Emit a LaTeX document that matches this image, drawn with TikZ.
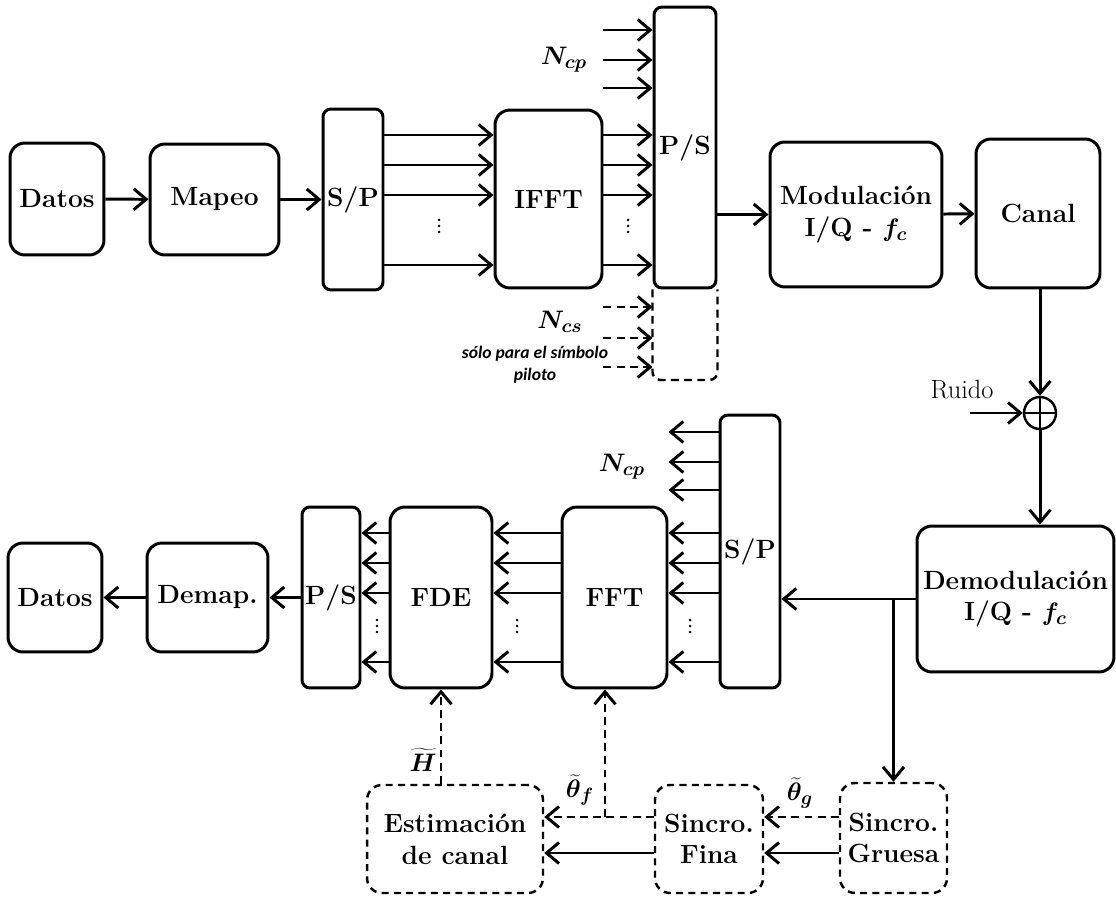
\documentclass[tikz,border=0pt]{standalone}
\usepackage{fontspec}
\usepackage{bm}
\newfontfamily\notafont{Carlito}
\usetikzlibrary{arrows.meta}

\tikzset{
  blk/.style={draw, line width=1.7pt, rounded corners=0.3cm, align=center,
    inner sep=0pt, font=\bfseries\fontsize{15}{18}\selectfont},
  thinblk/.style={blk, rounded corners=0.16cm},
  sincro/.style={blk, line width=1.4pt, dash pattern=on 4pt off 3pt},
  arr/.style={line width=1.7pt, -{Straight Barb[length=2.5mm,width=4.2mm]}},
  darr/.style={arr, dash pattern=on 4.5pt off 3pt},
  lbl/.style={inner sep=1pt}
}

\begin{document}
\begin{tikzpicture}[
  x=0.02cm, y=-0.02cm,
  line cap=butt,
  font=\fontsize{15}{18}\selectfont
]
  \useasboundingbox (0,0) rectangle (1116,898);

  % Transmisor
  \node[blk, minimum width=1.88cm, minimum height=2.24cm] (datosT) at (57,199) {Datos};
  \node[blk, minimum width=2.58cm, minimum height=2.22cm] (mapeo) at (214.5,199.5) {Mapeo};
  \node[thinblk, minimum width=1.2cm, minimum height=3.62cm] (spT) at (353,199.5) {S/P};
  \node[blk, minimum width=2.14cm, minimum height=3.56cm] (ifft) at (548.5,199) {IFFT};
  \node[thinblk, minimum width=1.24cm, minimum height=5.62cm] (psT) at (685,147.5) {P/S};
  \node[blk, minimum width=3.44cm, minimum height=2.9cm] (mod) at (856,214.5)
    {Modulación\\I/Q - $\bm{f_c}$};
  \node[blk, minimum width=2.48cm, minimum height=2.98cm] (canal) at (1038,213.5) {Canal};

  \draw[arr] (datosT) -- (mapeo);
  \draw[arr] (mapeo) -- (spT);
  \foreach \y in {135,165,195,265} {
    \draw[arr] (spT.east |- 0,\y) -- (ifft.west |- 0,\y);
    \draw[arr] (ifft.east |- 0,\y) -- (psT.west |- 0,\y);
  }

  % Prefijo y sufijo cíclico
  \foreach \y in {30,60,88}
    \draw[arr] (ifft.east |- 0,\y) -- (psT.west |- 0,\y);
  \node[lbl] (ncpT) at (564,60) {$\bm{N_{cp}}$};
  \draw[line width=1.4pt, dash pattern=on 4.5pt off 3pt, rounded corners=0.16cm]
    (psT.south west) -- (psT.west |- 0,380) -- (psT.east |- 0,380) -- (psT.south east);
  \foreach \y in {307,338,367}
    \draw[darr] (ifft.east |- 0,\y) -- (psT.west |- 0,\y);
  \node[lbl] (ncs) at (560,322) {$\bm{N_{cs}}$};
  \node[lbl, align=center, font=\notafont\bfseries\itshape\fontsize{10}{12.5}\selectfont]
    (piloto) at (535,365) {sólo para el símbolo\\piloto};

  \draw[arr] (psT.east |- mod.west) -- (mod.west);
  \draw[arr] (mod) -- (canal);

  % Canal con ruido
  \node[draw, circle, line width=1.4pt, minimum size=0.64cm, inner sep=0pt] (sum) at (1040,413) {};
  \draw[line width=1.4pt] (sum.north) -- (sum.south) (sum.west) -- (sum.east);
  \draw[arr] (sum.north |- canal.south) -- (sum.north);
  \node[lbl] (ruido) at (962,390) {Ruido};
  \coordinate (ruidoIn) at (970,413);
  \draw[arr] (ruidoIn) -- (sum.west);

  % Receptor
  \node[blk, minimum width=3.94cm, minimum height=2.92cm] (demod) at (1015.5,599)
    {Demodulación\\I/Q - $\bm{f_c}$};
  \node[thinblk, minimum width=1.2cm, minimum height=5.46cm] (spB) at (750,551.5) {S/P};
  \node[blk, minimum width=2.1cm, minimum height=3.62cm] (fft) at (614.5,597.5) {FFT};
  \node[blk, minimum width=2.04cm, minimum height=3.62cm] (fde) at (441,597.5) {FDE};
  \node[thinblk, minimum width=1.16cm, minimum height=3.62cm] (psB) at (331,597.5) {P/S};
  \node[blk, minimum width=2.42cm, minimum height=2.18cm] (demap) at (207.5,597.5) {Demap.};
  \node[blk, minimum width=1.88cm, minimum height=2.18cm] (datosB) at (55,597.5) {Datos};

  \draw[arr] (sum.south) -- (sum.south |- demod.north);
  \draw[arr] (demod.west) -- (demod.west -| spB.east);
  \foreach \y in {533,563,593,662} {
    \draw[arr] (spB.west |- 0,\y) -- (fft.east |- 0,\y);
    \draw[arr] (fft.west |- 0,\y) -- (fde.east |- 0,\y);
    \draw[arr] (fde.west |- 0,\y) -- (psB.east |- 0,\y);
  }
  \foreach \y in {432,462,490}
    \draw[arr] (spB.west |- 0,\y) -- (fft.east |- 0,\y);
  \node[lbl] (ncpB) at (622,467) {$\bm{N_{cp}}$};
  \draw[arr] (psB) -- (demap);
  \draw[arr] (demap) -- (datosB);

  % Puntos verticales entre las líneas
  \foreach \px/\py in {439/226, 628/226, 690/626, 517/626, 377/626}
    \foreach \k in {-1,0,1}
      \fill (\px,\py+6*\k) circle (0.85pt);

  % Sincronización y estimación
  \node[sincro, minimum width=2.14cm, minimum height=2.2cm] (gruesa) at (893.5,838) {Sincro.\\Gruesa};
  \node[sincro, minimum width=2.16cm, minimum height=2.16cm] (fina) at (709,839) {Sincro.\\Fina};
  \node[sincro, minimum width=3.52cm, minimum height=2.16cm] (estim) at (455,839) {Estimación\\de canal};

  \draw[arr] (gruesa.north |- demod.west) -- (gruesa.north);
  \draw[arr] (gruesa.west |- 0,853) -- (fina.east |- 0,853);
  \draw[arr] (fina.west |- 0,853) -- (estim.east |- 0,853);
  \draw[darr] (gruesa.west |- 0,817) -- (fina.east |- 0,817);
  \draw[darr] (fina.west |- 0,817) -- (estim.east |- 0,817);
  \coordinate (tf) at (605,817);
  \draw[darr] (tf) -- (tf |- fft.south);
  \draw[darr] (fde.south |- estim.north) -- (fde.south);

  \node[lbl] (thg) at (800,793) {$\bm{\widetilde{\theta}_g}$};
  \node[lbl] (thf) at (580,790) {$\bm{\widetilde{\theta}_f}$};
  \node[lbl] (hest) at (423,760) {$\bm{\widetilde{H}}$};
\end{tikzpicture}
\end{document}
